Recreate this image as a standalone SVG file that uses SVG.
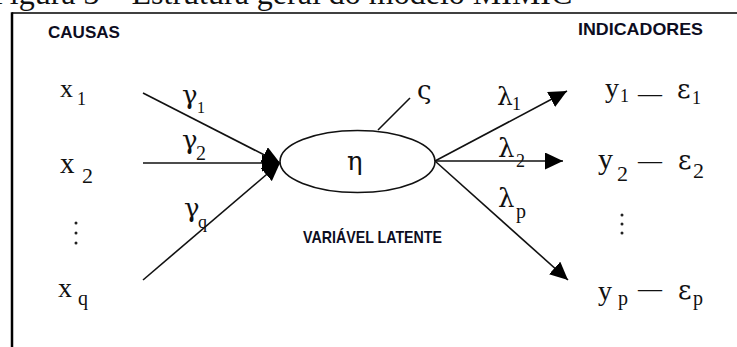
<svg xmlns="http://www.w3.org/2000/svg" width="737" height="347" viewBox="0 0 737 347">
<style>
.m{font-family:"Liberation Serif","Times New Roman",serif;fill:#111}
.g{font-family:"DejaVu Serif","Liberation Serif",serif;fill:#111}
.h{font-family:"Liberation Sans",Arial,sans-serif;font-weight:bold;fill:#0d0d1f}
.c{stroke:#111;stroke-width:1.6;fill:none}
</style>
<defs>
<marker id="ah" viewBox="0 0 18 17" refX="18" refY="8.5" markerWidth="18" markerHeight="17" markerUnits="userSpaceOnUse" orient="auto">
<path d="M0,0 L18,8.5 L0,17 z" fill="#000"/>
</marker>
</defs>
<rect width="737" height="347" fill="#fff"/>
<text class="m" x="-8" y="4" font-size="32">Figura 3 – Estrutura geral do modelo MIMIC</text>
<g id="frame">
<line x1="12" y1="13" x2="737" y2="13" stroke="#000" stroke-width="1.5"/>
<line x1="12" y1="12.3" x2="12" y2="347" stroke="#000" stroke-width="2.5"/>
</g>
<text class="h" x="48" y="38" font-size="17" textLength="72" lengthAdjust="spacingAndGlyphs">CAUSAS</text>
<text class="h" x="578" y="35" font-size="17" textLength="125" lengthAdjust="spacingAndGlyphs">INDICADORES</text>
<g id="connectors">
<line class="c" x1="143" y1="93" x2="280" y2="163" marker-end="url(#ah)"/>
<line class="c" x1="143" y1="163" x2="280" y2="163" marker-end="url(#ah)"/>
<line class="c" x1="143" y1="280" x2="280" y2="163" marker-end="url(#ah)"/>
<line class="c" x1="378" y1="130" x2="410" y2="98"/>
<line class="c" x1="435" y1="161" x2="567" y2="91" marker-end="url(#ah)"/>
<line class="c" x1="435" y1="161" x2="563" y2="161" marker-end="url(#ah)"/>
<line class="c" x1="435" y1="161" x2="568" y2="280" marker-end="url(#ah)"/>
</g>
<g id="x1"><text class="m" x="60" y="97" font-size="26">x</text><text class="m" x="77" y="105" font-size="18">1</text></g>
<g id="x2"><text class="m" x="60" y="173" font-size="29">x</text><text class="m" x="82" y="183" font-size="22">2</text></g>
<g id="xdots"><circle cx="76" cy="223" r="1.5" fill="#222"/><circle cx="76" cy="233" r="1.5" fill="#222"/><circle cx="76" cy="243" r="1.5" fill="#222"/></g>
<g id="xq"><text class="m" x="58" y="297" font-size="28">x</text><text class="m" x="78" y="305" font-size="20">q</text></g>
<g id="g1"><text class="g" x="182" y="104" font-size="26">γ</text><text class="m" x="197" y="113" font-size="16">1</text></g>
<g id="g2"><text class="g" x="182" y="149" font-size="26">γ</text><text class="m" x="196" y="160" font-size="20">2</text></g>
<g id="gq"><text class="g" x="184" y="217" font-size="26">γ</text><text class="m" x="198" y="228" font-size="18">q</text></g>
<g id="eta">
<ellipse cx="357.5" cy="161.5" rx="77.5" ry="31" fill="#fff" stroke="#111" stroke-width="1.6"/>
<text class="g" x="347" y="170" font-size="26">η</text>
</g>
<g id="zeta"><text class="g" x="417" y="99" font-size="26">ς</text></g>
<text class="h" x="303" y="243" font-size="17" textLength="139" lengthAdjust="spacingAndGlyphs">VARIÁVEL LATENTE</text>
<g id="l1"><text class="g" x="497" y="105" font-size="25">λ</text><text class="m" x="512" y="110" font-size="18">1</text></g>
<g id="l2"><text class="g" x="498" y="157" font-size="26">λ</text><text class="m" x="516" y="167" font-size="18">2</text></g>
<g id="lp"><text class="g" x="498" y="207" font-size="26">λ</text><text class="m" x="516" y="218" font-size="20">p</text></g>
<g id="y1"><text class="m" x="605" y="97" font-size="28">y</text><text class="m" x="620" y="102" font-size="18">1</text><text class="m" x="638" y="101" font-size="24">—</text><text class="g" x="677" y="98" font-size="26">ε</text><text class="m" x="692" y="104" font-size="18">1</text></g>
<g id="y2"><text class="m" x="598" y="169" font-size="30">y</text><text class="m" x="617" y="181" font-size="22">2</text><text class="m" x="638" y="168" font-size="24">—</text><text class="g" x="678" y="169" font-size="26">ε</text><text class="m" x="693" y="178" font-size="22">2</text></g>
<g id="ydots"><circle cx="622" cy="215" r="1.5" fill="#222"/><circle cx="622" cy="224" r="1.5" fill="#222"/><circle cx="622" cy="233" r="1.5" fill="#222"/></g>
<g id="yp"><text class="m" x="598" y="300" font-size="28">y</text><text class="m" x="618" y="305" font-size="20">p</text><text class="m" x="638" y="296" font-size="24">—</text><text class="g" x="678" y="299" font-size="26">ε</text><text class="m" x="693" y="305" font-size="20">p</text></g>
</svg>
